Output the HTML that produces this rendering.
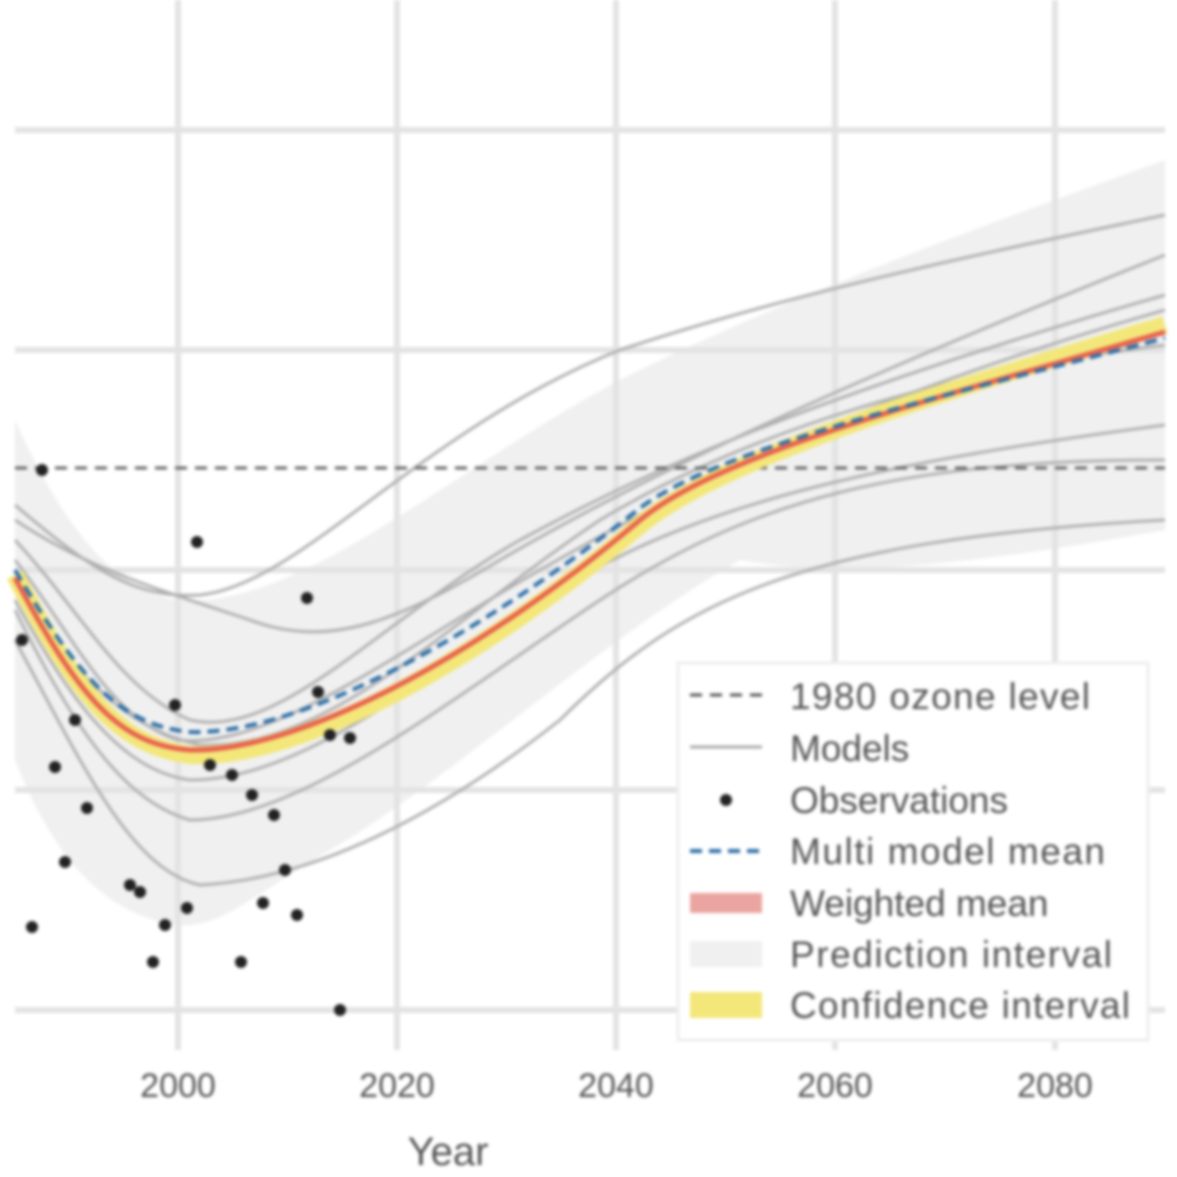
<!DOCTYPE html>
<html><head><meta charset="utf-8"><style>
html,body{margin:0;padding:0;background:#fff;}
svg{display:block;filter:blur(1.6px);}
text{font-family:"Liberation Sans",sans-serif;fill:#555;}
</style></head><body>
<svg width="1177" height="1177" viewBox="0 0 1177 1177" xmlns="http://www.w3.org/2000/svg">
<rect width="1177" height="1177" fill="#fff"/>
<path d="M15,420 C60,520 110,590 178,600 C300,610 450,470 620,380 C800,290 1000,220 1165,160 L1165,530 C1000,560 850,580 740,560 C600,640 450,780 330,850 C260,890 220,930 178,925 C100,915 50,850 15,760 Z" fill="#f0f0f0"/>
<g stroke="#e3e3e3" stroke-width="6">
<line x1="15" y1="130" x2="1165" y2="130"/><line x1="15" y1="350" x2="1165" y2="350"/>
<line x1="15" y1="570" x2="1165" y2="570"/><line x1="15" y1="790" x2="1165" y2="790"/>
<line x1="15" y1="1010" x2="1165" y2="1010"/>
<line x1="178" y1="0" x2="178" y2="1050"/><line x1="397" y1="0" x2="397" y2="1050"/>
<line x1="616" y1="0" x2="616" y2="1050"/><line x1="835" y1="0" x2="835" y2="1050"/>
<line x1="1055" y1="0" x2="1055" y2="1050"/>
</g>
<g fill="none" stroke="#b0b0b0" stroke-width="3">
<path d="M15,505 C80,560 130,600 200,595 C300,585 420,430 620,350 C800,290 1000,250 1165,215"/>
<path d="M15,520 C90,570 160,590 250,620 C330,650 400,620 500,560 C620,490 800,400 1165,255"/>
<path d="M15,540 C80,610 120,690 190,720 C280,740 380,620 520,540 C650,470 800,400 1165,295"/>
<path d="M15,560 C70,630 110,720 178,740 C270,750 400,650 540,570 C680,490 850,400 1165,310"/>
<path d="M15,600 C70,700 120,770 190,780 C300,780 420,680 560,590 C700,500 900,460 1165,425"/>
<path d="M15,610 C70,720 120,800 190,820 C300,820 450,700 600,600 C750,500 900,460 1165,460"/>
<path d="M15,640 C80,760 130,870 200,885 C300,880 420,830 560,720 C680,600 800,540 1165,520"/>
<path d="M15,590 C80,680 130,730 200,745 C330,750 450,620 600,520 C750,430 950,370 1165,345"/>
</g>
<line x1="15" y1="468" x2="1165" y2="468" stroke="#666" stroke-width="3" stroke-dasharray="12,8"/>
<path d="M15,575 C80,700 120,745 190,755 C300,760 480,660 640,525 C725,455 950,390 1165,325" fill="none" stroke="#f3e77a" stroke-width="18"/>
<path d="M15,578 C80,700 120,745 190,750 C300,752 480,655 640,520 C725,450 950,395 1165,332" fill="none" stroke="#e8604c" stroke-width="5"/>
<path d="M15,570 C80,680 120,725 190,732 C300,735 480,635 640,508 C725,445 950,395 1165,338" fill="none" stroke="#2e6fa8" stroke-width="4" stroke-dasharray="12,7"/>
<g fill="#222">
<circle cx="42" cy="470" r="6"/><circle cx="197" cy="542" r="6"/><circle cx="307" cy="598" r="6"/>
<circle cx="22" cy="640" r="6"/><circle cx="75" cy="720" r="6"/><circle cx="175" cy="705" r="6"/>
<circle cx="318" cy="692" r="6"/><circle cx="330" cy="735" r="6"/><circle cx="350" cy="738" r="6"/>
<circle cx="55" cy="767" r="6"/><circle cx="210" cy="765" r="6"/><circle cx="232" cy="775" r="6"/>
<circle cx="252" cy="795" r="6"/><circle cx="274" cy="815" r="6"/><circle cx="87" cy="808" r="6"/>
<circle cx="65" cy="862" r="6"/><circle cx="130" cy="885" r="6"/><circle cx="140" cy="892" r="6"/>
<circle cx="285" cy="870" r="6"/><circle cx="32" cy="927" r="6"/><circle cx="165" cy="925" r="6"/>
<circle cx="187" cy="908" r="6"/><circle cx="263" cy="903" r="6"/><circle cx="297" cy="915" r="6"/>
<circle cx="153" cy="962" r="6"/><circle cx="241" cy="962" r="6"/><circle cx="340" cy="1010" r="6"/>
</g>
<rect x="678" y="663" width="470" height="377" fill="#fff" stroke="#eee" stroke-width="3"/>
<line x1="690" y1="695" x2="762" y2="695" stroke="#555" stroke-width="3" stroke-dasharray="12,8"/>
<line x1="690" y1="747" x2="762" y2="747" stroke="#aaa" stroke-width="3"/>
<circle cx="726" cy="800" r="6" fill="#222"/>
<line x1="690" y1="851" x2="762" y2="851" stroke="#2e6fa8" stroke-width="4" stroke-dasharray="12,7"/>
<rect x="690" y="893" width="72" height="20" fill="#eba5a0"/>
<rect x="690" y="941" width="72" height="26" fill="#f0f0f0"/>
<rect x="690" y="992" width="72" height="26" fill="#f3e77a"/>
<g font-size="37">
<text x="790" y="709" textLength="300">1980 ozone level</text>
<text x="790" y="761">Models</text>
<text x="790" y="813">Observations</text>
<text x="790" y="864" textLength="315">Multi model mean</text>
<text x="790" y="916">Weighted mean</text>
<text x="790" y="967" textLength="322">Prediction interval</text>
<text x="790" y="1018" textLength="340">Confidence interval</text>
</g>
<g font-size="34" text-anchor="middle">
<text x="178" y="1097">2000</text><text x="397" y="1097">2020</text>
<text x="616" y="1097">2040</text><text x="835" y="1097">2060</text>
<text x="1055" y="1097">2080</text>
</g>
<text x="448" y="1165" font-size="40" text-anchor="middle">Year</text>
</svg>
</body></html>
